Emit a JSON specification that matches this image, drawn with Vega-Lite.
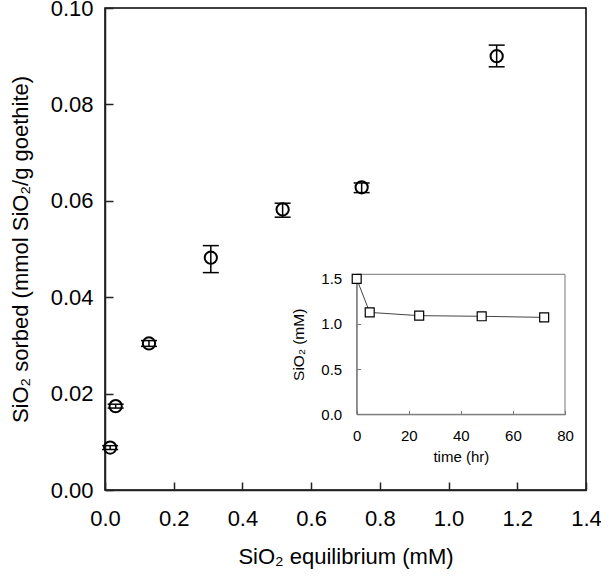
{
  "$schema": "https://vega.github.io/schema/vega-lite/v6.json",
  "width": 481,
  "height": 482,
  "autosize": {"type": "none"},
  "padding": {"left": 105, "top": 8, "right": 15, "bottom": 87},
  "background": "white",
  "config": {
    "view": {"stroke": "#000", "strokeWidth": 1.5},
    "font": "Liberation Sans",
    "axis": {
      "grid": false,
      "labelFont": "Liberation Sans",
      "titleFont": "Liberation Sans",
      "labelColor": "#000",
      "titleColor": "#000",
      "titleFontWeight": "normal",
      "labelFlush": false,
      "labelOverlap": false
    }
  },
  "datasets": {
    "main": [
      {"eq": 0.015, "sorbed": 0.0088, "lo": 0.0084, "hi": 0.0092},
      {"eq": 0.031, "sorbed": 0.0174, "lo": 0.0170, "hi": 0.0178},
      {"eq": 0.128, "sorbed": 0.0304, "lo": 0.0298, "hi": 0.0310},
      {"eq": 0.308, "sorbed": 0.0482, "lo": 0.0451, "hi": 0.0507},
      {"eq": 0.517, "sorbed": 0.0582, "lo": 0.0566, "hi": 0.0595},
      {"eq": 0.747, "sorbed": 0.0628, "lo": 0.0617, "hi": 0.0637},
      {"eq": 1.140, "sorbed": 0.0900, "lo": 0.0878, "hi": 0.0923}
    ],
    "inset": [
      {"t": 0, "c": 1.5},
      {"t": 5, "c": 1.128},
      {"t": 24, "c": 1.092},
      {"t": 48, "c": 1.085},
      {"t": 72, "c": 1.073}
    ]
  },
  "layer": [
    {
      "data": {"name": "main"},
      "encoding": {
        "x": {
          "field": "eq",
          "type": "quantitative",
          "scale": {"domain": [0, 1.4], "nice": false, "zero": false},
          "axis": {
            "orient": "bottom",
            "title": "SiO₂ equilibrium (mM)",
            "values": [0, 0.2, 0.4, 0.6, 0.8, 1.0, 1.2, 1.4],
            "format": ".1f",
            "tickSize": -8,
            "tickWidth": 1.5,
            "tickColor": "#222",
            "domainColor": "#222",
            "domainWidth": 1.5,
            "labelFontSize": 22,
            "titleFontSize": 22,
            "labelPadding": 26,
            "titlePadding": 17
          }
        }
      },
      "layer": [
        {
          "mark": {"type": "rule", "color": "#000", "strokeWidth": 1.5},
          "encoding": {
            "y": {
              "field": "lo",
              "type": "quantitative",
              "scale": {"domain": [0, 0.1], "nice": false, "zero": false},
              "axis": {
                "orient": "left",
                "title": "SiO₂ sorbed (mmol SiO₂/g goethite)",
                "values": [0, 0.02, 0.04, 0.06, 0.08, 0.1],
                "format": ".2f",
                "tickSize": -8,
                "tickWidth": 1.5,
                "tickColor": "#222",
                "domainColor": "#222",
                "domainWidth": 1.5,
                "labelFontSize": 22,
                "titleFontSize": 22,
                "labelPadding": 20,
                "titlePadding": 18
              }
            },
            "y2": {"field": "hi"}
          }
        },
        {
          "mark": {"type": "tick", "orient": "horizontal", "size": 16, "thickness": 1.5, "color": "#000", "opacity": 1},
          "encoding": {"y": {"field": "lo", "type": "quantitative", "title": "SiO₂ sorbed (mmol SiO₂/g goethite)"}}
        },
        {
          "mark": {"type": "tick", "orient": "horizontal", "size": 16, "thickness": 1.5, "color": "#000", "opacity": 1},
          "encoding": {"y": {"field": "hi", "type": "quantitative", "title": "SiO₂ sorbed (mmol SiO₂/g goethite)"}}
        },
        {
          "mark": {"type": "point", "shape": "circle", "size": 150, "strokeWidth": 2, "color": "#000", "filled": false, "opacity": 1},
          "encoding": {"y": {"field": "sorbed", "type": "quantitative", "title": "SiO₂ sorbed (mmol SiO₂/g goethite)"}}
        }
      ]
    },
    {
      "layer": [
        {
          "data": {"values": [{"frame": 1}]},
          "mark": {"type": "rect", "fill": "transparent", "stroke": "#777", "strokeWidth": 1},
          "encoding": {
            "x": {"datum": 0, "type": "quantitative", "scale": {"domain": [0, 80], "range": [251.7, 460], "nice": false, "zero": false}},
            "x2": {"datum": 80},
            "y": {"datum": 0, "type": "quantitative", "scale": {"domain": [0, 1.55], "range": [406.3, 266.3], "nice": false, "zero": false}},
            "y2": {"datum": 1.55}
          }
        },
        {
          "data": {"name": "inset"},
          "encoding": {
            "x": {
              "field": "t",
              "type": "quantitative",
              "axis": {
                "orient": "bottom",
                "offset": -75.7,
                "title": "time (hr)",
                "values": [0, 20, 40, 60, 80],
                "tickSize": -4,
                "tickColor": "#777",
                "domainColor": "#777",
                "labelFontSize": 15,
                "titleFontSize": 15,
                "labelPadding": 18,
                "titlePadding": 6
              }
            },
            "y": {
              "field": "c",
              "type": "quantitative",
              "axis": {
                "orient": "left",
                "offset": -251.7,
                "title": "SiO₂ (mM)",
                "values": [0, 0.5, 1, 1.5],
                "format": ".1f",
                "tickSize": -4,
                "tickColor": "#777",
                "domainColor": "#777",
                "labelFontSize": 15,
                "titleFontSize": 15.5,
                "labelPadding": 19,
                "titlePadding": 14
              }
            }
          },
          "layer": [
            {"mark": {"type": "line", "color": "#444", "strokeWidth": 1}},
            {"mark": {"type": "point", "shape": "square", "size": 80, "filled": true, "fill": "white", "stroke": "#000", "strokeWidth": 1.2, "opacity": 1}}
          ]
        }
      ]
    }
  ],
  "resolve": {
    "scale": {"x": "independent", "y": "independent"},
    "axis": {"x": "independent", "y": "independent"}
  }
}
